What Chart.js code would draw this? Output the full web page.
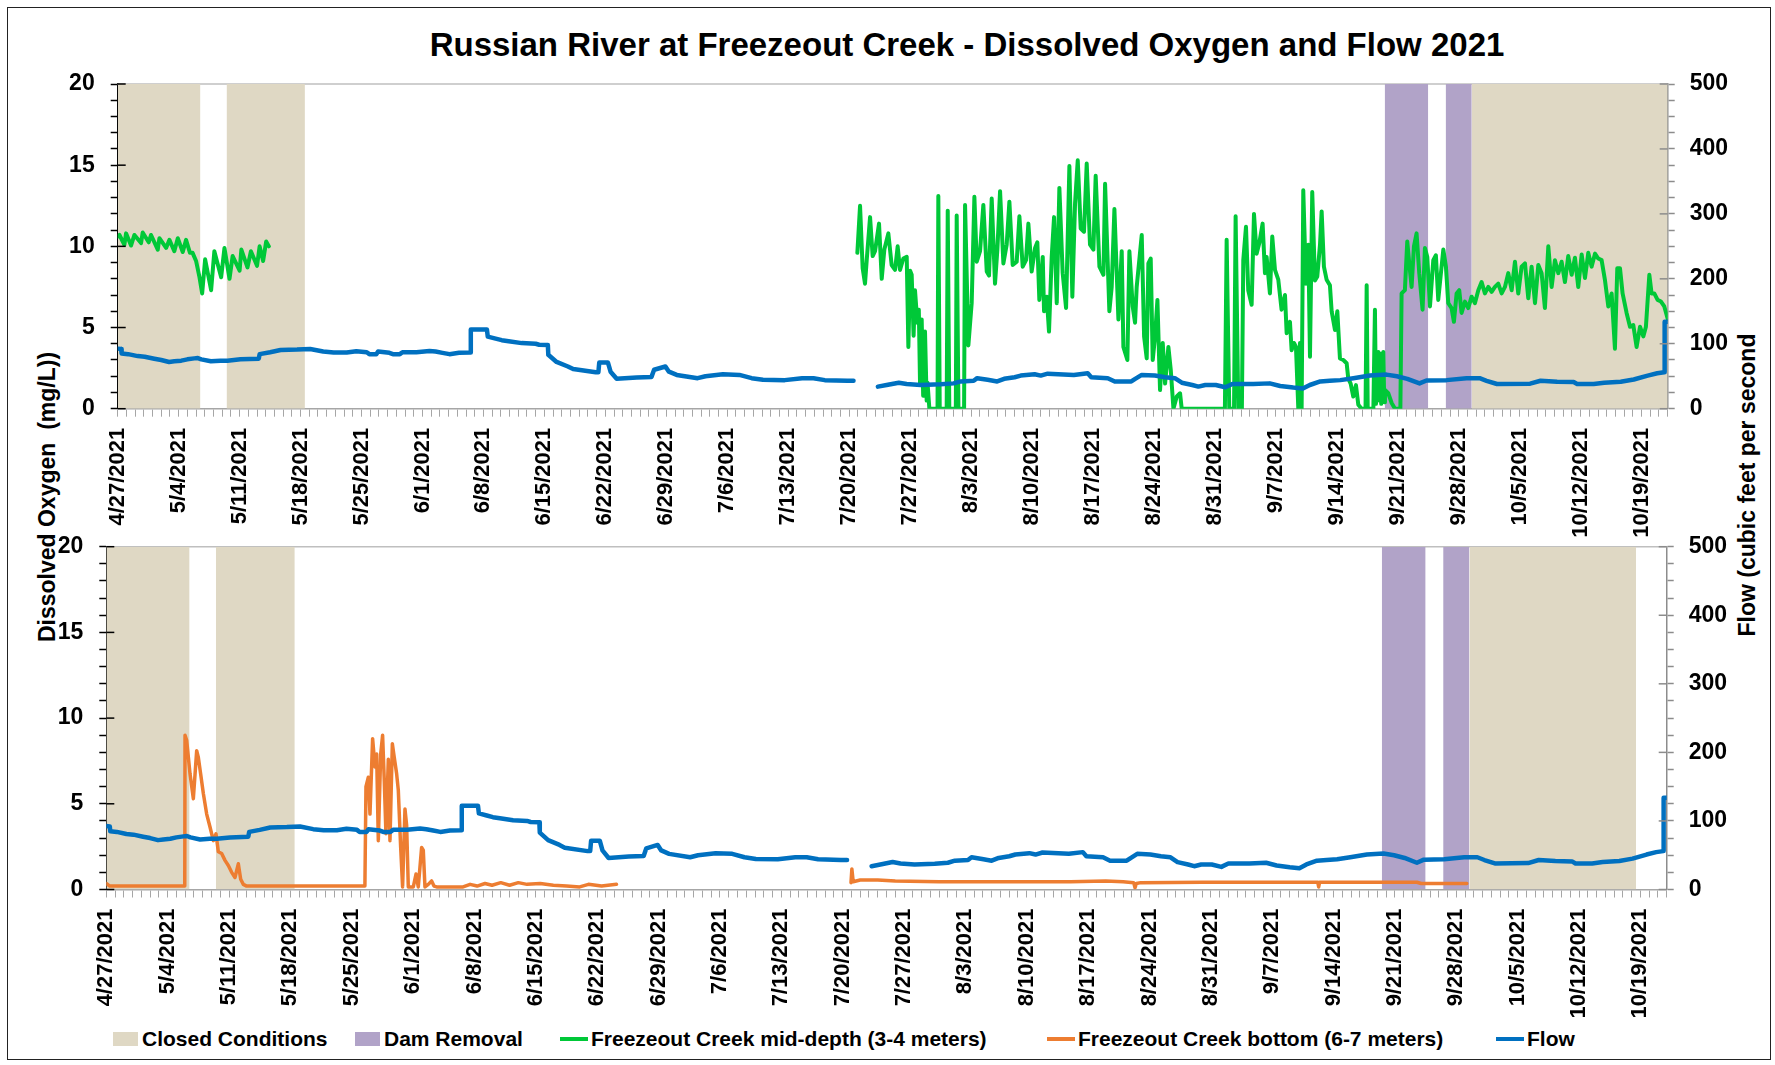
<!DOCTYPE html>
<html>
<head>
<meta charset="utf-8">
<title>Russian River at Freezeout Creek - Dissolved Oxygen and Flow 2021</title>
<script src="https://cdn.jsdelivr.net/npm/chart.js@4.4.1/dist/chart.umd.min.js"></script>
<style>
  html, body { margin: 0; padding: 0; background: #fff; }
  body { width: 1775px; height: 1065px; position: relative; overflow: hidden;
         font-family: 'Liberation Sans', Arial, sans-serif; color: #000; }
  .frame { position: absolute; left: 7px; top: 7px; width: 1762px; height: 1051px; border: 1.5px solid #222; }
  #title { position: absolute; left: 367px; top: 26px; width: 1200px; text-align: center;
           font-size: 33px; font-weight: bold; line-height: 38px; white-space: nowrap; }
  .ytitle { position: absolute; width: 400px; height: 28px; line-height: 28px; text-align: center;
            font-size: 23px; font-weight: bold; white-space: pre; transform: rotate(-90deg); }
  canvas { position: absolute; left: 0; }
  .legend-item { position: absolute; top: 1025px; height: 28px; display: flex; align-items: center;
                 font-size: 21px; font-weight: bold; white-space: nowrap; }
  .legend-box { width: 25px; height: 14px; margin-right: 4px; }
  .legend-line { width: 28px; height: 4px; margin-right: 3px; }
</style>
</head>
<body>
<div class="frame"></div>
<div id="title">Russian River at Freezeout Creek - Dissolved Oxygen and Flow 2021</div>
<div class="ytitle" style="left:-153px; top:483px;">Dissolved Oxygen  (mg/L))</div>
<div class="ytitle" style="left:1547px; top:471px;">Flow (cubic feet per second</div>
<canvas id="topChart" width="1775" height="486" style="top:64px"></canvas>
<canvas id="bottomChart" width="1775" height="500" style="top:525px"></canvas>
<div id="legend"></div>

<script>
// x values are days after 4/27/2021
const weekLabels = ['4/27/2021', '5/4/2021', '5/11/2021', '5/18/2021', '5/25/2021', '6/1/2021', '6/8/2021',
  '6/15/2021', '6/22/2021', '6/29/2021', '7/6/2021', '7/13/2021', '7/20/2021', '7/27/2021', '8/3/2021',
  '8/10/2021', '8/17/2021', '8/24/2021', '8/31/2021', '9/7/2021', '9/14/2021', '9/21/2021', '9/28/2021',
  '10/5/2021', '10/12/2021', '10/19/2021'];

const closedTop = [[0, 9.5], [12.5, 21.5], [155.5, 178]];
const closedBottom = [[0, 9.5], [12.5, 21.5], [155.5, 174.5]];
const damRemoval = [[145.5, 150.5], [152.5, 155.5]];

// Freezeout Creek mid-depth (3-4 meters), mg/L
const midDepthA = [[0, 10.6], [0.2, 10.7], [0.77, 10.1], [0.96, 10.8], [1.53, 10.05], [1.92, 10.7], [2.68, 10.2],
  [2.87, 10.85], [3.56, 10.25], [3.83, 10.7], [4.6, 9.8], [4.79, 10.5], [5.56, 9.9], [5.94, 10.4], [6.5, 9.7],
  [6.9, 10.5], [7.47, 9.65], [7.85, 10.4], [8.3, 9.6], [8.6, 9.6], [9.0, 9.1], [9.39, 8.1], [9.7, 7.1],
  [10.04, 9.2], [10.73, 7.3], [11.1, 9.7], [11.88, 8.1], [12.26, 9.9], [12.84, 8.0], [13.2, 9.4], [14.0, 8.5],
  [14.2, 9.8], [14.9, 8.7], [15.3, 9.7], [16.0, 8.8], [16.3, 10.0], [16.7, 9.1], [17.05, 10.3], [17.36, 10.0]];

const midDepthB = [[84.94, 9.6], [85.25, 12.5], [85.55, 8.65], [85.82, 7.7], [86.01, 9.1], [86.4, 11.8],
  [86.7, 9.4], [86.97, 9.7], [87.43, 11.4], [87.74, 8.0], [88.04, 9.8], [88.5, 10.8], [88.88, 8.85],
  [89.27, 8.55], [89.57, 10.0], [89.84, 8.55], [90.22, 9.25], [90.61, 9.35], [90.8, 3.8], [91.0, 8.5],
  [91.18, 8.25], [91.4, 4.5], [91.56, 7.3], [91.83, 5.3], [92.0, 6.1], [92.14, 1.5], [92.33, 5.5], [92.5, 0.8],
  [92.71, 4.75], [92.9, 0.5], [93.0, 1.6], [93.21, 0], [94.15, 0], [94.24, 13.1], [94.4, 0], [95.2, 0],
  [95.32, 12.2], [95.5, 0], [96.25, 0], [96.35, 11.9], [96.55, 0], [97.2, 0], [97.31, 12.55], [97.69, 3.9],
  [98.07, 6.5], [98.38, 13.05], [98.65, 9.05], [99.03, 9.7], [99.41, 12.55], [99.8, 8.45], [100.06, 8.2],
  [100.37, 12.95], [100.75, 7.7], [101.02, 9.8], [101.33, 13.4], [101.71, 8.95], [102.09, 10.1], [102.4, 12.75],
  [102.78, 8.85], [103.24, 9.05], [103.55, 11.85], [103.93, 8.75], [104.31, 9.15], [104.58, 11.4],
  [104.96, 8.45], [105.35, 9.9], [105.61, 10.25], [105.84, 6.7], [106.23, 9.35], [106.38, 6.0], [106.69, 6.9],
  [106.95, 4.75], [107.26, 9.35], [107.53, 11.8], [107.84, 6.5], [108.14, 13.6], [108.52, 8.35], [108.91, 6.2],
  [109.29, 14.95], [109.63, 6.9], [109.94, 12.65], [110.25, 15.3], [110.59, 11.1], [110.97, 10.9],
  [111.28, 15.1], [111.66, 10.1], [112.05, 9.8], [112.31, 14.35], [112.74, 8.75], [113.2, 8.25],
  [113.39, 13.85], [113.88, 6.0], [114.15, 7.5], [114.46, 12.3], [114.92, 5.5], [115.3, 9.7], [115.49, 3.8],
  [115.95, 3.0], [116.18, 9.7], [116.56, 6.3], [116.83, 5.3], [117.02, 7.5], [117.6, 10.7], [117.87, 4.45],
  [118.17, 3.1], [118.36, 8.95], [118.63, 9.25], [118.86, 3.0], [119.13, 4.45], [119.4, 6.7], [119.7, 1.15],
  [120.01, 4.05], [120.28, 1.55], [120.66, 3.8], [120.93, 2.4], [121.24, 0], [121.62, 0.75], [122.0, 0.95],
  [122.19, 0], [127.15, 0], [127.35, 10.4], [127.65, 0], [128.2, 0], [128.38, 11.85], [128.69, 0], [129.1, 0],
  [129.26, 9.15], [129.57, 11.2], [129.83, 7.3], [130.22, 6.4], [130.49, 12.0], [130.79, 9.55], [131.1, 10.2],
  [131.48, 11.4], [131.75, 8.35], [131.94, 9.35], [132.32, 7.1], [132.59, 10.6], [132.9, 8.55], [133.28, 7.95],
  [133.66, 6.1], [134.05, 7.0], [134.24, 4.65], [134.62, 5.35], [134.81, 3.6], [135.08, 4.05], [135.31, 3.8],
  [135.58, 0], [135.77, 4.05], [135.96, 0], [136.15, 13.45], [136.46, 7.7], [136.73, 10.1], [136.92, 3.2],
  [137.18, 13.35], [137.49, 7.9], [137.76, 8.15], [138.07, 10.1], [138.26, 12.15], [138.52, 8.75],
  [138.83, 7.95], [139.21, 7.6], [139.41, 6.0], [139.79, 4.85], [140.06, 6.0], [140.36, 3.1], [140.75, 3.0],
  [141.13, 2.8], [141.32, 1.85], [141.59, 1.55], [141.89, 0.75], [142.2, 1.45], [142.47, 0.25], [142.85, 0],
  [143.3, 0], [143.43, 7.6], [143.55, 0], [144.2, 0], [144.38, 6.1], [144.5, 0.3], [144.77, 3.5], [144.85, 0.5],
  [144.96, 3.4], [145.1, 0.3], [145.34, 3.5], [145.45, 0.4], [145.53, 1.15], [145.91, 0.95], [146.3, 0.35],
  [146.68, 0], [147.3, 0], [147.44, 7.1], [147.82, 7.3], [148.09, 10.3], [148.32, 8.95], [148.59, 7.5],
  [148.86, 10.0], [149.16, 10.8], [149.47, 8.35], [149.85, 6.1], [150.12, 9.9], [150.39, 9.35], [150.7, 6.3],
  [151.08, 9.15], [151.38, 9.45], [151.65, 6.7], [151.92, 8.15], [152.23, 9.8], [152.53, 8.75], [152.8, 6.5],
  [153.18, 6.2], [153.45, 5.35], [153.76, 7.1], [154.06, 7.3], [154.33, 5.9], [154.72, 6.6], [155.1, 6.2],
  [155.48, 6.9], [155.86, 6.5], [156.25, 7.3], [156.63, 7.8], [157.01, 7.1], [157.4, 7.5], [157.78, 7.2],
  [158.16, 7.5], [158.54, 7.7], [158.93, 7.1], [159.31, 7.5], [159.69, 8.35], [160.08, 7.3], [160.46, 9.05],
  [160.84, 7.1], [161.22, 8.75], [161.61, 8.95], [161.99, 6.8], [162.37, 8.75], [162.76, 6.5], [163.14, 8.85],
  [163.52, 8.35], [163.9, 6.2], [164.29, 10.0], [164.67, 7.5], [165.05, 9.15], [165.44, 8.35], [165.82, 9.05],
  [166.2, 7.8], [166.58, 9.4], [166.97, 8.25], [167.35, 9.3], [167.73, 7.5], [168.12, 9.5], [168.5, 8.05],
  [168.88, 9.6], [169.26, 8.75], [169.65, 9.55], [170.03, 9.25], [170.41, 9.15], [170.8, 7.9], [171.18, 6.3],
  [171.56, 7.1], [171.94, 3.7], [172.21, 8.65], [172.52, 8.65], [172.82, 7.1], [173.28, 5.9], [173.67, 5.05],
  [174.05, 5.15], [174.43, 3.8], [174.82, 5.05], [175.2, 4.45], [175.5, 5.05], [175.89, 8.25], [176.15, 7.1],
  [176.46, 7.1], [176.84, 6.7], [177.23, 6.6], [177.61, 6.3], [177.99, 5.55]];

// Freezeout Creek bottom (6-7 meters), mg/L
const bottomA = [[0, 0.35], [0.4, 0.2], [8.95, 0.2], [8.98, 9.0], [9.17, 8.7], [9.55, 6.75], [9.93, 5.3],
  [10.31, 8.1], [10.5, 7.7], [10.76, 6.75], [11.07, 5.6], [11.45, 4.4], [11.83, 3.65], [12.21, 2.85],
  [12.51, 3.25], [12.78, 2.2], [13.16, 2.1], [13.54, 1.7], [13.92, 1.4], [14.3, 1.0], [14.68, 0.7], [15.06, 1.5],
  [15.33, 0.6], [15.63, 0.3], [16.01, 0.2], [29.5, 0.2], [29.62, 6.0], [29.89, 6.55], [30.08, 4.4], [30.38, 8.8],
  [30.65, 7.15], [30.84, 7.9], [31.03, 2.85], [31.3, 7.9], [31.52, 9.0], [31.71, 6.35], [31.9, 3.25],
  [32.17, 7.6], [32.36, 2.85], [32.63, 8.5], [32.85, 7.7], [33.12, 6.75], [33.31, 5.8], [33.58, 2.45],
  [33.8, 0.15], [34.07, 4.7], [34.26, 3.75], [34.45, 0.15], [35.02, 0.15], [35.33, 0.9], [35.59, 0.15],
  [35.97, 2.45], [36.16, 2.3], [36.35, 0.15], [36.73, 0.3], [37.11, 0.5], [37.38, 0.2], [37.68, 0.15],
  [40.7, 0.15], [41.5, 0.3], [42.3, 0.2], [43.2, 0.35], [44.0, 0.25], [45.0, 0.4], [46.0, 0.25], [47.0, 0.4],
  [48.0, 0.3], [49.5, 0.35], [51.0, 0.25], [52.5, 0.2], [54.0, 0.15], [55.0, 0.3], [56.5, 0.2], [58.2, 0.3]];

const bottomB = [[84.95, 0.4], [85.05, 1.2], [85.2, 0.45], [86, 0.55], [88, 0.55], [90, 0.5], [95, 0.45],
  [100, 0.45], [105, 0.45], [110, 0.45], [114, 0.5], [116, 0.45], [117.2, 0.4], [117.35, 0.1], [117.5, 0.35],
  [118, 0.4], [125, 0.42], [130, 0.42], [135, 0.42], [138.2, 0.42], [138.3, 0.15], [138.4, 0.42], [145, 0.42],
  [149.5, 0.42], [150, 0.35], [155.2, 0.35]];

// Flow, cubic feet per second
const flowA = [[0, 92.5], [0.4, 92], [0.45, 85], [1.2, 84], [2.3, 81], [3.1, 80], [4.2, 77], [5.0, 75], [5.9, 72],
  [6.5, 73], [7.3, 74], [8.0, 76], [8.8, 77.5], [9.2, 78], [9.6, 76], [10.7, 73], [11.8, 74], [12.6, 74],
  [14.1, 76], [16.2, 77], [16.3, 84], [17.5, 87], [18.7, 90.5], [20.6, 91], [22.1, 92], [23.6, 88], [24.8, 86.5],
  [26.3, 86.5], [27.4, 88.5], [28.6, 87], [28.9, 84], [29.7, 84], [29.9, 88], [31.2, 86], [31.6, 84], [32.4, 84],
  [32.7, 87], [34.3, 87], [35.8, 89], [36.5, 88], [37.3, 86], [38.1, 84], [39.2, 86], [40.5, 86.5], [40.55, 122],
  [42.4, 122], [42.5, 111], [43.4, 108], [44.1, 105.5], [44.9, 104], [46.4, 101], [48.0, 100], [48.4, 98.5],
  [49.4, 98], [49.45, 83], [50.4, 72], [51.7, 65], [52.3, 61], [54.9, 56], [55.2, 56], [55.3, 71], [56.3, 71],
  [56.6, 57], [57.3, 46], [59.6, 48], [61.3, 49], [61.6, 60], [62.9, 65], [63.3, 57], [64.2, 52], [66.6, 47],
  [67.5, 50], [69.5, 53], [71.4, 52], [72.8, 47], [74.1, 44.5], [76.6, 44], [78.6, 47], [79.9, 47], [81.2, 44],
  [83.8, 43], [84.5, 43]];

const flowB = [[87.3, 34], [88.3, 36.5], [89.7, 40], [90.6, 38], [92.2, 36.5], [94.5, 37.5], [96.0, 39],
  [96.8, 42], [98.3, 43], [98.7, 47], [99.9, 44.5], [101, 42], [101.8, 46], [103, 48.5], [103.7, 51], [105.3, 53],
  [106, 51], [106.8, 54], [109.8, 52], [111.4, 54.5], [111.8, 48.5], [113.7, 47], [114.5, 42], [116.4, 42],
  [116.8, 45.5], [117.6, 52], [119.1, 51], [120.3, 48.5], [121.4, 47], [122.2, 40], [123.4, 36.5], [124.1, 34],
  [124.9, 36.5], [126.1, 36.5], [127.2, 33], [128, 38], [130.4, 38], [132.3, 39], [133.5, 35], [135, 32.5],
  [136.1, 31], [136.9, 36.5], [138.1, 42], [139.2, 43], [140.4, 44], [141.9, 47], [143.8, 51], [145.7, 52.5],
  [146.9, 50], [148.1, 46], [149.5, 39], [150.3, 43.5], [152.6, 44], [154.9, 47], [156.4, 47], [157.2, 43],
  [158.4, 38], [162.2, 38.5], [163.4, 43], [165.3, 41.5], [167.2, 41], [167.6, 38], [169.5, 38], [170.7, 40],
  [172.6, 41.5], [174.1, 45], [175.7, 51], [176.8, 54.5], [177.6, 56], [177.65, 134], [178, 134]];

const legendNames = ['Closed Conditions', 'Dam Removal', 'Freezeout Creek mid-depth (3-4 meters)',
  'Freezeout Creek bottom (6-7 meters)', 'Flow'];

const COLORS = {
  closed: '#DFD8C4',
  dam: '#B1A3C8',
  mid: '#00C838',
  bottom: '#ED7D31',
  flow: '#0070C0'
};

Chart.defaults.font.family = "'Liberation Sans', Arial, sans-serif";

const dayTicks = [];
for (let d = 0; d <= 178; d++) dayTicks.push(d);
const doTicks = [];
for (let v = 0; v <= 20; v++) doTicks.push(v);
const flowTicks = [];
for (let v = 0; v <= 500; v += 25) flowTicks.push(v);

function toPoints(pairs) {
  return pairs.map(p => ({ x: p[0], y: p[1] }));
}

function lineSet(pairs, color, width, axis, order) {
  return {
    type: 'line', data: toPoints(pairs), yAxisID: axis, order: order,
    borderColor: color, borderWidth: width, borderJoinStyle: 'round', borderCapStyle: 'round',
    pointRadius: 0, tension: 0, fill: false
  };
}

function bandSet(range, color) {
  return {
    type: 'line', data: [{ x: range[0], y: 20 }, { x: range[1], y: 20 }], yAxisID: 'y', order: 5,
    borderColor: 'rgba(0,0,0,0)', borderWidth: 0, backgroundColor: color,
    pointRadius: 0, tension: 0, fill: 'origin'
  };
}

// top border of the plot area and inner half of major ticks
const frameMarks = {
  id: 'frameMarks',
  beforeDatasetsDraw(chart) {
    const { ctx, chartArea: a } = chart;
    ctx.save();
    ctx.strokeStyle = '#bfbfbf';
    ctx.lineWidth = 1.5;
    ctx.beginPath();
    ctx.moveTo(a.left, a.top);
    ctx.lineTo(a.right, a.top);
    ctx.stroke();
    ctx.restore();
  },
  afterDatasetsDraw(chart) {
    const { ctx, scales } = chart;
    ctx.save();
    ctx.lineWidth = 1.5;
    ctx.strokeStyle = '#000';
    doTicks.filter(v => v % 5 === 0).forEach(v => {
      const py = scales.y.getPixelForValue(v);
      ctx.beginPath(); ctx.moveTo(scales.y.right, py); ctx.lineTo(scales.y.right + 8, py); ctx.stroke();
    });
    ctx.strokeStyle = '#8c8c8c';
    flowTicks.filter(v => v % 100 === 0).forEach(v => {
      const py = scales.y1.getPixelForValue(v);
      ctx.beginPath(); ctx.moveTo(scales.y1.left - 8, py); ctx.lineTo(scales.y1.left, py); ctx.stroke();
    });
    ctx.restore();
  }
};

function buildPanel(canvasId, box, doLines, doColor, doWidth, closed) {
  const datasets = [];
  [flowA, flowB].forEach(seg => datasets.push(lineSet(seg, COLORS.flow, 4.5, 'y1', 0)));
  doLines.forEach(seg => datasets.push(lineSet(seg, doColor, doWidth, 'y', 1)));
  closed.forEach(r => datasets.push(bandSet(r, COLORS.closed)));
  damRemoval.forEach(r => datasets.push(bandSet(r, COLORS.dam)));

  return new Chart(document.getElementById(canvasId), {
    type: 'line',
    data: { datasets: datasets },
    plugins: [frameMarks],
    options: {
      responsive: false,
      animation: false,
      events: [],
      layout: { padding: { top: box.areaTop - box.canvasTop, left: 0, right: 0, bottom: 0 } },
      plugins: { legend: { display: false }, tooltip: { enabled: false } },
      scales: {
        x: {
          type: 'linear', min: 0, max: 178,
          afterBuildTicks: s => { s.ticks = dayTicks.map(v => ({ value: v })); },
          afterFit: s => { s.height = box.canvasTop + box.canvasHeight - box.areaBottom; },
          ticks: {
            autoSkip: false, minRotation: 90, maxRotation: 90, padding: 11, color: '#000',
            font: { size: 22, weight: 'bold' },
            callback: v => (v % 7 === 0 ? weekLabels[v / 7] : '')
          },
          grid: { drawOnChartArea: false, tickLength: 8, tickColor: '#a6a6a6', tickWidth: 1 },
          border: { color: '#a6a6a6', width: 1.5 }
        },
        y: {
          type: 'linear', position: 'left', min: 0, max: 20, z: 1,
          afterBuildTicks: s => { s.ticks = doTicks.map(v => ({ value: v })); },
          afterFit: s => { s.width = box.areaLeft; s.paddingTop = 0; s.paddingBottom = 0; },
          ticks: {
            autoSkip: false, padding: 16, color: '#000', font: { size: 23, weight: 'bold' },
            callback: v => (v % 5 === 0 ? String(v) : '')
          },
          grid: { drawOnChartArea: false, tickLength: 7, tickColor: '#000', tickWidth: 1.5 },
          border: { color: '#000', width: 1.5 }
        },
        y1: {
          type: 'linear', position: 'right', min: 0, max: 500, z: 1,
          afterBuildTicks: s => { s.ticks = flowTicks.map(v => ({ value: v })); },
          afterFit: s => { s.width = 1775 - box.areaRight; s.paddingTop = 0; s.paddingBottom = 0; },
          ticks: {
            autoSkip: false, padding: 15, color: '#000', font: { size: 23, weight: 'bold' },
            callback: v => (v % 100 === 0 ? String(v) : '')
          },
          grid: { drawOnChartArea: false, tickLength: 7, tickColor: '#8c8c8c', tickWidth: 1.5 },
          border: { color: '#8c8c8c', width: 1.5 }
        }
      }
    }
  });
}

function buildLegend() {
  const kinds = ['box', 'box', 'line', 'line', 'line'];
  const colors = [COLORS.closed, COLORS.dam, COLORS.mid, COLORS.bottom, COLORS.flow];
  const lefts = [113, 355, 560, 1047, 1496];
  const holder = document.getElementById('legend');
  legendNames.forEach((name, i) => {
    const item = document.createElement('div');
    item.className = 'legend-item';
    item.style.left = lefts[i] + 'px';
    item.innerHTML = `<span class="legend-${kinds[i]}" style="background:${colors[i]}"></span><span>${name}</span>`;
    holder.appendChild(item);
  });
}

document.addEventListener('DOMContentLoaded', function() {
  buildPanel('topChart',
    { canvasTop: 64, canvasHeight: 486, areaTop: 84, areaBottom: 408.7, areaLeft: 117.7, areaRight: 1667.7 },
    [midDepthA, midDepthB], COLORS.mid, 4, closedTop);
  buildPanel('bottomChart',
    { canvasTop: 525, canvasHeight: 500, areaTop: 546.7, areaBottom: 889.5, areaLeft: 106.3, areaRight: 1666.7 },
    [bottomA, bottomB], COLORS.bottom, 3.5, closedBottom);
  buildLegend();
});
</script>
</body>
</html>
